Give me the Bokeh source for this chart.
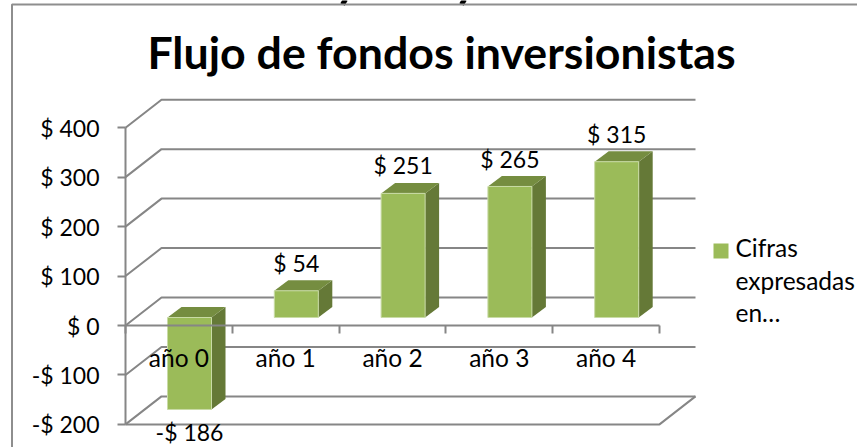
from bokeh.plotting import figure
from bokeh.embed import file_html
from bokeh.resources import INLINE
from bokeh.models import Range1d, FixedTicker
from bokeh.core.properties import value

categories = ["año 0", "año 1", "año 2", "año 3", "año 4"]
values = [-186, 54, 251, 265, 315]
value_labels = ["-$ 186", "$ 54", "$ 251", "$ 265", "$ 315"]
y_ticks = [-200, -100, 0, 100, 200, 300, 400]
y_tick_labels = ["-$ 200", "-$ 100", "$ 0", "$ 100", "$ 200", "$ 300", "$ 400"]
title_text = "Flujo de fondos inversionistas"
legend_lines = ["Cifras", "expresadas", "en…"]

FONT = "Lato"
GRID = "#868686"
FRONT, TOP, SIDE = "#9BBB59", "#758D40", "#657937"
NUM_SIZE, WORD_SIZE = 23, 24.5
TITLE_SIZE = 44.7
BASELINE_FIX = 0.41

W, H = 857, 447
X0, PX_CAT = 125.0, 106.8
Y0, PX_VAL = 325.0, 0.4945
def dx(px): return (px - X0) / PX_CAT
def dy(py): return (Y0 - py) / PX_VAL

p = figure(width=W, height=H, output_backend="svg", toolbar_location=None,
           x_range=Range1d(dx(0), dx(W)), y_range=Range1d(dy(H), dy(0)),
           min_border=0, background_fill_color="white")
p.outline_line_color = None
p.grid.visible = False

def put(x, y, s, size, align="center", style="normal"):
    p.text([x], [y + BASELINE_FIX * size / PX_VAL], text=[s], text_font=value(FONT),
           text_font_size=value(f"{size}px"), text_font_style=style, text_align=align,
           text_baseline="alphabetic", text_color="black")

# clipped descenders of the text above the chart
for c in (343, 462):
    p.line([dx(c + 2), dx(c - 1)], [dy(-1), dy(4)], line_color="black", line_width=5)

# outer chart frame
p.line([dx(W), dx(11.5), dx(11.5)], [dy(4), dy(4), dy(H)], line_color="#8e8e8e", line_width=2)

# walls and floor gridlines
DX_WALL, DY_WALL = 36 / PX_CAT, 28 / PX_VAL
n = len(categories)
for t in y_ticks:
    p.line([0, DX_WALL, n + DX_WALL], [t, t + DY_WALL, t + DY_WALL], line_color=GRID, line_width=2)
p.line([0, n, n + DX_WALL], [-200, -200, -200 + DY_WALL], line_color=GRID, line_width=2)

# axes
p.xaxis.fixed_location = 0
p.xaxis.ticker = FixedTicker(ticks=list(range(n + 1)))
p.xaxis.major_label_overrides = {i: "" for i in range(n + 1)}
p.xaxis.axis_line_color = GRID
p.xaxis.axis_line_width = 2
p.xaxis.major_tick_line_color = GRID
p.xaxis.major_tick_line_width = 2
p.xaxis.major_tick_in = 0
p.xaxis.major_tick_out = 8
p.xaxis.minor_tick_line_color = None
p.xaxis.bounds = (0, n)

p.yaxis.fixed_location = 0
p.yaxis.ticker = FixedTicker(ticks=y_ticks)
p.yaxis.major_label_overrides = {t: l for t, l in zip(y_ticks, y_tick_labels)}
p.yaxis.major_label_text_font = FONT
p.yaxis.major_label_text_font_size = f"{NUM_SIZE}px"
p.yaxis.major_label_text_color = "black"
p.yaxis.major_label_standoff = 18
p.yaxis.axis_line_color = GRID
p.yaxis.axis_line_width = 2
p.yaxis.major_tick_line_color = GRID
p.yaxis.major_tick_line_width = 2
p.yaxis.major_tick_in = 0
p.yaxis.major_tick_out = 8
p.yaxis.minor_tick_line_color = None
p.yaxis.bounds = (-200, 400)

# 3D bars
BAR_W = 44 / PX_CAT
OFF_X, OFF_Y = 0.5 - BAR_W / 2 + 10.6 / PX_CAT, 8.0 / PX_VAL
DEPTH_X, DEPTH_Y = 14 / PX_CAT, 10.5 / PX_VAL
for i, v in enumerate(values):
    xl = i + OFF_X
    xr = xl + BAR_W
    lo, hi = min(v, 0) + OFF_Y, max(v, 0) + OFF_Y
    p.patch([xr, xr + DEPTH_X, xr + DEPTH_X, xr], [lo, lo + DEPTH_Y, hi + DEPTH_Y, hi], fill_color=SIDE, line_color=None)
    p.patch([xl, xr, xr + DEPTH_X, xl + DEPTH_X], [hi, hi, hi + DEPTH_Y, hi + DEPTH_Y], fill_color=TOP, line_color=None)
    p.quad(left=xl, right=xr, bottom=lo, top=hi, fill_color=FRONT, line_color="#c9dba6", line_width=1)
    xc = (xl + xr) / 2
    ly = hi + DEPTH_Y + 8 / PX_VAL if v >= 0 else lo - 32 / PX_VAL
    put(xc, ly, value_labels[i], NUM_SIZE)

# category labels
for i, c in enumerate(categories):
    put(i + 0.5, dy(367), c, WORD_SIZE)

# title
put(dx(441), dy(70), title_text, TITLE_SIZE, style="bold")

# legend
p.scatter([dx(720.5)], [dy(250.5)], marker="square", size=15, fill_color=FRONT, line_color=None)
for line, by in zip(legend_lines, [257, 290, 322]):
    put(dx(735), dy(by), line, WORD_SIZE, align="left")

html = file_html(p, INLINE).replace("</head>", "<style>html,body{margin:0;padding:0;overflow:hidden}</style></head>")
open("out.html", "w").write(html)
